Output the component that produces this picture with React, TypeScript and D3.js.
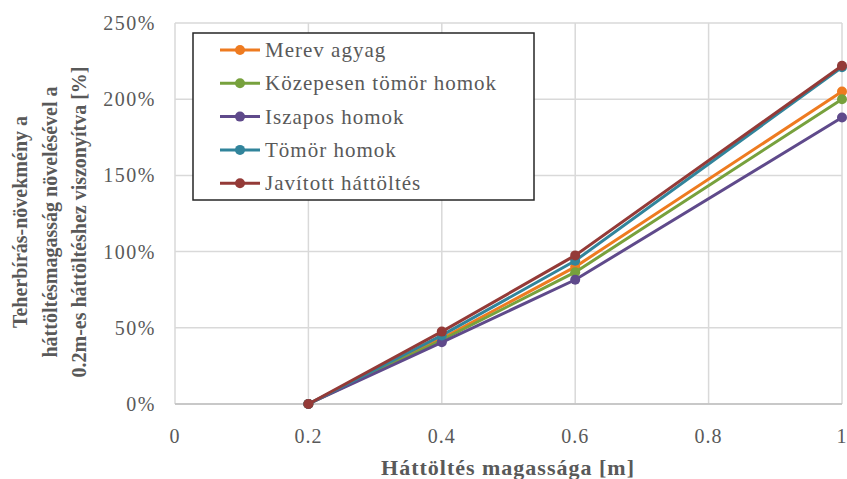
import React from "react";
import * as d3 from "d3";

const xValues = [0.2, 0.4, 0.6, 1.0];
const seriesNames = ["Merev agyag", "Közepesen tömör homok", "Iszapos homok", "Tömör homok", "Javított háttöltés"];
const merevAgyag = [0, 43, 90, 205];
const kozepesenTomor = [0, 42, 86.5, 200];
const iszapos = [0, 40.5, 81.5, 188];
const tomorHomok = [0, 45, 94, 221];
const javitott = [0, 47.5, 97.5, 222];
const seriesData = [merevAgyag, kozepesenTomor, iszapos, tomorHomok, javitott];
const seriesColors = ["#EE7B20", "#77A13D", "#5F4A8B", "#31849B", "#943A37"];
const xTicks = [0, 0.2, 0.4, 0.6, 0.8, 1];
const yTicks = [0, 50, 100, 150, 200, 250];
const yTitleLines = ["Teherbírás-növekmény  a", "háttöltésmagasság növelésével a", "0.2m-es háttöltéshez  viszonyítva [%]"];
const xTitle = "Háttöltés magassága [m]";

export default function App() {
  const W = 847, H = 479;
  const x = d3.scaleLinear().domain([0, 1]).range([175, 842]);
  const y = d3.scaleLinear().domain([0, 250]).range([404, 23]);
  const line = d3.line<number>().x((_, i) => x(xValues[i])).y((d) => y(d));
  const font = "Liberation Serif, DejaVu Serif, serif";
  const grey = "#595959";
  return (
    <svg width={W} height={H} style={{ position: "absolute", left: 0, top: 0, background: "#fff", fontFamily: font }}>
      {xTicks.map((t) => (
        <line key={"gx" + t} x1={x(t)} x2={x(t)} y1={y(250)} y2={y(0)} stroke="#D9D9D9" strokeWidth={1.5} />
      ))}
      {yTicks.map((t) => (
        <line key={"gy" + t} x1={x(0)} x2={x(1)} y1={y(t)} y2={y(t)} stroke="#D9D9D9" strokeWidth={1.5} />
      ))}
      <line x1={x(0)} x2={x(1)} y1={y(0)} y2={y(0)} stroke="#BFBFBF" strokeWidth={1.5} />
      {yTicks.map((t) => (
        <text key={"yt" + t} x={156} y={y(t) + 7} textAnchor="end" fontSize={20} letterSpacing={1.5} fill={grey} style={{ fontFamily: font }}>{t}%</text>
      ))}
      {xTicks.map((t) => (
        <text key={"xt" + t} x={x(t)} y={443} textAnchor="middle" fontSize={20} letterSpacing={1} fill={grey} style={{ fontFamily: font }}>{String(t)}</text>
      ))}
      <text x={508} y={475} textAnchor="middle" fontSize={22} letterSpacing={1} fontWeight="bold" fill={grey} style={{ fontFamily: font }}>{xTitle}</text>
      {yTitleLines.map((s, i) => (
        <text key={"ytl" + i} transform={`translate(${20 + i * 29.5},222) rotate(-90)`} dy="0.35em" textAnchor="middle" fontSize={20} fontWeight="bold" fill={grey} style={{ fontFamily: font }}>{s}</text>
      ))}
      {seriesData.map((d, si) => (
        <g key={"s" + si}>
          <path d={line(d) || ""} fill="none" stroke={seriesColors[si]} strokeWidth={3} />
          {d.map((v, i) => (
            <circle key={i} cx={x(xValues[i])} cy={y(v)} r={5} fill={seriesColors[si]} />
          ))}
        </g>
      ))}
      <rect x={193} y={33} width={341} height={167} fill="#fff" stroke="#262626" strokeWidth={1.5} />
      {seriesNames.map((n, i) => {
        const cy = 50 + i * 33.3;
        return (
          <g key={"l" + i}>
            <line x1={220} x2={260} y1={cy} y2={cy} stroke={seriesColors[i]} strokeWidth={3} />
            <circle cx={240} cy={cy} r={5} fill={seriesColors[i]} />
            <text x={265} y={cy + 7} fontSize={21} letterSpacing={1} fill={grey} style={{ fontFamily: font }}>{n}</text>
          </g>
        );
      })}
    </svg>
  );
}
